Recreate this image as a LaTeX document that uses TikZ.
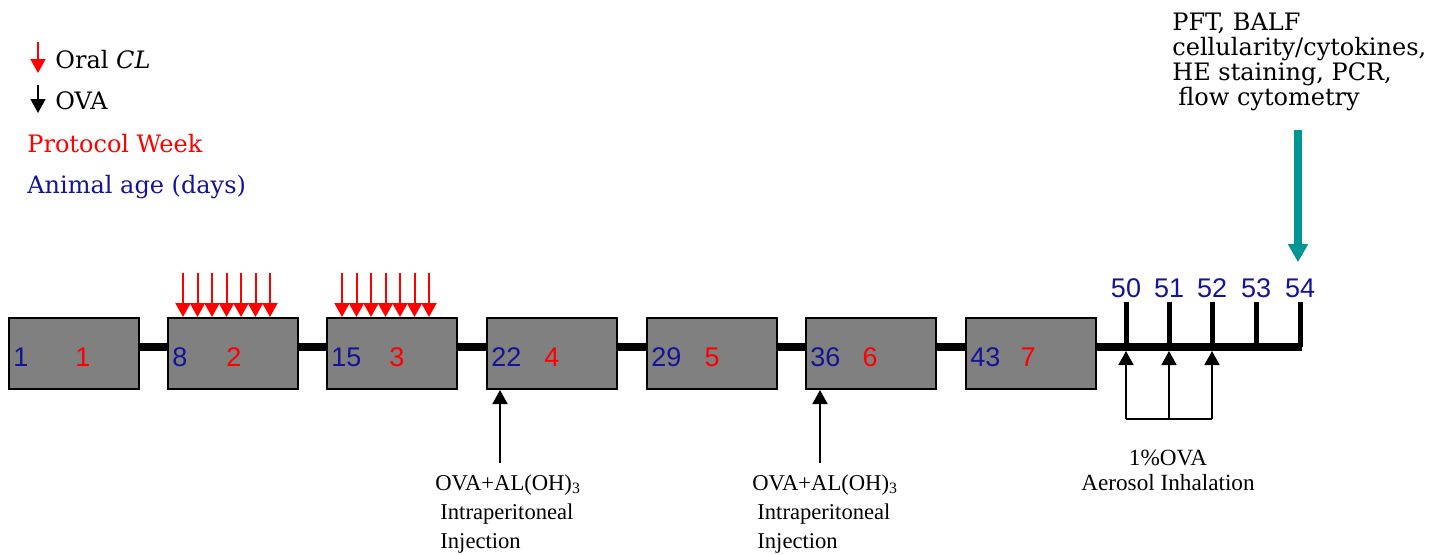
\documentclass[tikz,border=0pt]{standalone}
\usepackage{fontspec}
\setmainfont{DejaVu Serif}
\newfontfamily\numfont{Liberation Sans}
\newfontfamily\labfont{Liberation Serif}
\usepackage{tikz}
\usetikzlibrary{positioning,arrows.meta}
\definecolor{dayblue}{RGB}{20,20,150}
\definecolor{boxgray}{RGB}{128,128,128}
\definecolor{assay}{RGB}{0,150,150}
\tikzset{
    x=0.5pt,
    y=-0.5pt,
    week/.style = {
        draw,
        fill=boxgray,
        shape=rectangle,
        minimum width=65pt,
        minimum height=35.5pt,
        inner sep=0pt,
        line width=1pt
    },
    daynum/.style = {
        font=\numfont\fontsize{13.5}{14}\selectfont,
        text=dayblue,
        inner sep=0pt
    },
    weeknum/.style = {
        font=\numfont\fontsize{13.5}{14}\selectfont,
        text=red,
        inner sep=0pt
    },
    legend/.style = {
        font=\fontsize{12}{12.5}\selectfont,
        anchor=west,
        inner sep=0pt
    },
    note/.style = {
        font=\labfont\fontsize{11.3}{14.5}\selectfont,
        align=left,
        inner sep=0pt
    },
    spine/.style = {line width=4pt},
    tick/.style = {line width=2.5pt},
    oral/.style = {color=red, line width=1pt, -{Triangle[width=7.5pt,length=7pt]}},
    ova/.style = {line width=0.8pt, -{Triangle[width=7.5pt,length=7pt]}},
    assayarrow/.style = {color=assay, line width=4pt, -{Triangle[width=9.5pt,length=9pt]}},
}

\begin{document}
\begin{tikzpicture}
                \useasboundingbox (0,0) rectangle (1445,554);

                % legend
                \path[draw, oral] (38,42) -- (38,73);
                \node[legend] (lgoral) at (55,60) {Oral \textit{CL}};
                \path[draw, ova] (38,85) -- (38,113);
                \node[legend] (lgova) at (55,101) {OVA};
                \node[legend, text=red] (lgweek) at (27,144) {Protocol Week};
                \node[legend, text=dayblue] (lgage) at (27,187) {Animal age (days)};

                \node[week] (wk1) at (74,353.5) {};
                \node[week] (wk2) at (232.5,353.5) {};
                \node[week] (wk3) at (392,353.5) {};
                \node[week] (wk4) at (551.5,353.5) {};
                \node[week] (wk5) at (712,353.5) {};
                \node[week] (wk6) at (871,353.5) {};
                \node[week] (wk7) at (1031,353.5) {};

                \node[daynum, anchor=west] (age1) at (13,357) {1};
                \node[daynum, anchor=west] (age8) at (172,357) {8};
                \node[daynum, anchor=west] (age15) at (331,357) {15};
                \node[daynum, anchor=west] (age22) at (491,357) {22};
                \node[daynum, anchor=west] (age29) at (651,357) {29};
                \node[daynum, anchor=west] (age36) at (810,357) {36};
                \node[daynum, anchor=west] (age43) at (970,357) {43};

                \node[weeknum] (pw1) at (83,357) {1};
                \node[weeknum] (pw2) at (234,357) {2};
                \node[weeknum] (pw3) at (397,357) {3};
                \node[weeknum] (pw4) at (552,357) {4};
                \node[weeknum] (pw5) at (712,357) {5};
                \node[weeknum] (pw6) at (870,357) {6};
                \node[weeknum] (pw7) at (1028,357) {7};

                \path[draw, spine] ([yshift=3.25pt]wk1.east) -- ([yshift=3.25pt]wk2.west);
                \path[draw, spine] ([yshift=3.25pt]wk2.east) -- ([yshift=3.25pt]wk3.west);
                \path[draw, spine] ([yshift=3.25pt]wk3.east) -- ([yshift=3.25pt]wk4.west);
                \path[draw, spine] ([yshift=3.25pt]wk4.east) -- ([yshift=3.25pt]wk5.west);
                \path[draw, spine] ([yshift=3.25pt]wk5.east) -- ([yshift=3.25pt]wk6.west);
                \path[draw, spine] ([yshift=3.25pt]wk6.east) -- ([yshift=3.25pt]wk7.west);

                % days of the challenge
                \node[daynum] (d50) at (1126,288) {50};
                \node[daynum] (d51) at (1169,288) {51};
                \node[daynum] (d52) at (1212,288) {52};
                \node[daynum] (d53) at (1256,288) {53};
                \node[daynum] (d54) at (1300,288) {54};
                \coordinate (t54) at (1300,347);
                \path[draw, spine, shorten >=-1.2pt] ([yshift=3.25pt]wk7.east) -- (t54);
                \path[draw, tick, shorten <=2pt] (d50.south) -- (d50 |- t54);
                \path[draw, tick, shorten <=2pt] (d51.south) -- (d51 |- t54);
                \path[draw, tick, shorten <=2pt] (d52.south) -- (d52 |- t54);
                \path[draw, tick, shorten <=2pt] (d53.south) -- (d53 |- t54);
                \path[draw, tick, shorten <=2pt] (d54.south) -- (t54);

                % oral CL, weeks 2 and 3
                \path[draw, oral] (183,273) -- (183,273 |- wk2.north);
                \path[draw, oral] (197.5,273) -- (197.5,273 |- wk2.north);
                \path[draw, oral] (212,273) -- (212,273 |- wk2.north);
                \path[draw, oral] (226.5,273) -- (226.5,273 |- wk2.north);
                \path[draw, oral] (241,273) -- (241,273 |- wk2.north);
                \path[draw, oral] (255.5,273) -- (255.5,273 |- wk2.north);
                \path[draw, oral] (270,273) -- (270,273 |- wk2.north);
                \path[draw, oral] (342,273) -- (342,273 |- wk3.north);
                \path[draw, oral] (356.5,273) -- (356.5,273 |- wk3.north);
                \path[draw, oral] (371,273) -- (371,273 |- wk3.north);
                \path[draw, oral] (385.5,273) -- (385.5,273 |- wk3.north);
                \path[draw, oral] (400,273) -- (400,273 |- wk3.north);
                \path[draw, oral] (414.5,273) -- (414.5,273 |- wk3.north);
                \path[draw, oral] (429,273) -- (429,273 |- wk3.north);

                % i.p. sensitisation
                \coordinate (ip4) at (500,463);
                \coordinate (ip6) at (820,463);
                \node[note, anchor=north west] (inj4) at (435,474) {OVA+AL(OH)\textsubscript{3}\\\hspace*{2.5pt}Intraperitoneal\\\hspace*{2.5pt}Injection};
                \node[note, anchor=north west] (inj6) at (752,474) {OVA+AL(OH)\textsubscript{3}\\\hspace*{2.5pt}Intraperitoneal\\\hspace*{2.5pt}Injection};
                \path[draw, ova] (ip4) -- (ip4 |- wk4.south);
                \path[draw, ova] (ip6) -- (ip6 |- wk6.south);

                % aerosol challenge
                \coordinate (b50) at (1126,419);
                \coordinate (b51) at (1169,419);
                \coordinate (b52) at (1212,419);
                \path[draw, ova, shorten >=2pt] (b50) -- (b50 |- t54);
                \path[draw, ova, shorten >=2pt] (b51) -- (b51 |- t54);
                \path[draw, ova, shorten >=2pt] (b52) -- (b52 |- t54);
                \path[draw, line width=0.8pt] (b50) -- (b52);
                \node[note, align=center, font=\labfont\fontsize{11.6}{12.5}\selectfont] (inh) at (1168,470) {1\%OVA\\Aerosol Inhalation};

                % read-outs
                \node[legend, anchor=north west, align=left] (res) at (1172,13) {PFT, BALF\\cellularity/cytokines,\\HE staining, PCR,\\\hspace*{3pt}flow cytometry};
                \coordinate (rtop) at (1298,130);
                \path[draw, assayarrow, shorten >=8pt] (rtop) -- (rtop |- d54.north);
\end{tikzpicture}
\end{document}
